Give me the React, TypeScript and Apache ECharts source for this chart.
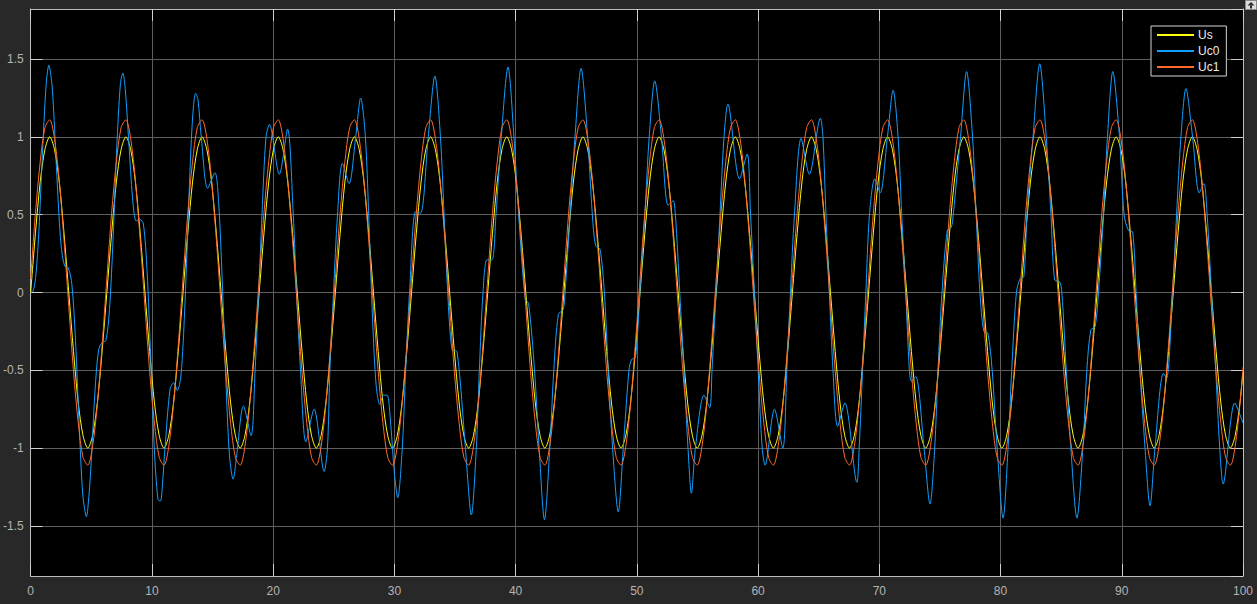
import React, { useEffect, useRef } from "react";
import * as echarts from "echarts";

// ---------- data ----------
const seriesNames = ["Us", "Uc0", "Uc1"];
const seriesColors = ["#FFFF11", "#139FFF", "#FF6929"];

// Us and Uc1 are sampled every pi/8 time units, starting at t = 0
const SAMPLE_STEP = Math.PI / 8;
const END_TIME = 100;

const usValues = [
  0, 0.38, 0.71, 0.92, 1, 0.92, 0.71, 0.38, 0, -0.38, -0.71, -0.92, -1, -0.92, -0.71, -0.38,
  0, 0.38, 0.71, 0.92, 1, 0.92, 0.71, 0.38, 0, -0.38, -0.71, -0.92, -1, -0.92, -0.71, -0.38,
  0, 0.38, 0.71, 0.92, 1, 0.92, 0.71, 0.38, 0, -0.38, -0.71, -0.92, -1, -0.92, -0.71, -0.38,
  0, 0.38, 0.71, 0.92, 1, 0.92, 0.71, 0.38, 0, -0.38, -0.71, -0.92, -1, -0.92, -0.71, -0.38,
  0, 0.38, 0.71, 0.92, 1, 0.92, 0.71, 0.38, 0, -0.38, -0.71, -0.92, -1, -0.92, -0.71, -0.38,
  0, 0.38, 0.71, 0.92, 1, 0.92, 0.71, 0.38, 0, -0.38, -0.71, -0.92, -1, -0.92, -0.71, -0.38,
  0, 0.38, 0.71, 0.92, 1, 0.92, 0.71, 0.38, 0, -0.38, -0.71, -0.92, -1, -0.92, -0.71, -0.38,
  0, 0.38, 0.71, 0.92, 1, 0.92, 0.71, 0.38, 0, -0.38, -0.71, -0.92, -1, -0.92, -0.71, -0.38,
  0, 0.38, 0.71, 0.92, 1, 0.92, 0.71, 0.38, 0, -0.38, -0.71, -0.92, -1, -0.92, -0.71, -0.38,
  0, 0.38, 0.71, 0.92, 1, 0.92, 0.71, 0.38, 0, -0.38, -0.71, -0.92, -1, -0.92, -0.71, -0.38,
  0, 0.38, 0.71, 0.92, 1, 0.92, 0.71, 0.38, 0, -0.38, -0.71, -0.92, -1, -0.92, -0.71, -0.38,
  0, 0.38, 0.71, 0.92, 1, 0.92, 0.71, 0.38, 0, -0.38, -0.71, -0.92, -1, -0.92, -0.71, -0.38,
  0, 0.38, 0.71, 0.92, 1, 0.92, 0.71, 0.38, 0, -0.38, -0.71, -0.92, -1, -0.92, -0.71, -0.38,
  0, 0.38, 0.71, 0.92, 1, 0.92, 0.71, 0.38, 0, -0.38, -0.71, -0.92, -1, -0.92, -0.71, -0.38,
  0, 0.38, 0.71, 0.92, 1, 0.92, 0.71, 0.38, 0, -0.38, -0.71, -0.92, -1, -0.92, -0.71, -0.38,
  0, 0.38, 0.71, 0.92, 1, 0.92, 0.71, 0.38, 0, -0.38, -0.71, -0.92, -1, -0.92, -0.71,
];
const usEnd = -0.51;

const uc1Values = [
  0.09, 0.51, 0.84, 1.06, 1.11, 0.99, 0.72, 0.34, -0.09, -0.51, -0.84, -1.06, -1.11, -0.99, -0.72, -0.34,
  0.09, 0.51, 0.84, 1.06, 1.11, 0.99, 0.72, 0.34, -0.09, -0.51, -0.84, -1.06, -1.11, -0.99, -0.72, -0.34,
  0.09, 0.51, 0.84, 1.06, 1.11, 0.99, 0.72, 0.34, -0.09, -0.51, -0.84, -1.06, -1.11, -0.99, -0.72, -0.34,
  0.09, 0.51, 0.84, 1.06, 1.11, 0.99, 0.72, 0.34, -0.09, -0.51, -0.84, -1.06, -1.11, -0.99, -0.72, -0.34,
  0.09, 0.51, 0.84, 1.06, 1.11, 0.99, 0.72, 0.34, -0.09, -0.51, -0.84, -1.06, -1.11, -0.99, -0.72, -0.34,
  0.09, 0.51, 0.84, 1.06, 1.11, 0.99, 0.72, 0.34, -0.09, -0.51, -0.84, -1.06, -1.11, -0.99, -0.72, -0.34,
  0.09, 0.51, 0.84, 1.06, 1.11, 0.99, 0.72, 0.34, -0.09, -0.51, -0.84, -1.06, -1.11, -0.99, -0.72, -0.34,
  0.09, 0.51, 0.84, 1.06, 1.11, 0.99, 0.72, 0.34, -0.09, -0.51, -0.84, -1.06, -1.11, -0.99, -0.72, -0.34,
  0.09, 0.51, 0.84, 1.06, 1.11, 0.99, 0.72, 0.34, -0.09, -0.51, -0.84, -1.06, -1.11, -0.99, -0.72, -0.34,
  0.09, 0.51, 0.84, 1.06, 1.11, 0.99, 0.72, 0.34, -0.09, -0.51, -0.84, -1.06, -1.11, -0.99, -0.72, -0.34,
  0.09, 0.51, 0.84, 1.06, 1.11, 0.99, 0.72, 0.34, -0.09, -0.51, -0.84, -1.06, -1.11, -0.99, -0.72, -0.34,
  0.09, 0.51, 0.84, 1.06, 1.11, 0.99, 0.72, 0.34, -0.09, -0.51, -0.84, -1.06, -1.11, -0.99, -0.72, -0.34,
  0.09, 0.51, 0.84, 1.06, 1.11, 0.99, 0.72, 0.34, -0.09, -0.51, -0.84, -1.06, -1.11, -0.99, -0.72, -0.34,
  0.09, 0.51, 0.84, 1.06, 1.11, 0.99, 0.72, 0.34, -0.09, -0.51, -0.84, -1.06, -1.11, -0.99, -0.72, -0.34,
  0.09, 0.51, 0.84, 1.06, 1.11, 0.99, 0.72, 0.34, -0.09, -0.51, -0.84, -1.06, -1.11, -0.99, -0.72, -0.34,
  0.09, 0.51, 0.84, 1.06, 1.11, 0.99, 0.72, 0.34, -0.09, -0.51, -0.84, -1.06, -1.11, -0.99, -0.72,
];
const uc1End = -0.48;

// Uc0: [time, value] read at its peaks, troughs, shoulders and grid crossings
const uc0Points = [
  [0, 0], [0.2, 0.01], [0.4, 0.09], [0.6, 0.29], [0.75, 0.51], [0.9, 0.77], [1.1, 1.1], [1.3, 1.36],
  [1.5, 1.46], [1.75, 1.34], [1.9, 1.16], [2.2, 0.69], [2.5, 0.31], [2.8, 0.17], [3.1, 0.16], [3.4, 0.05],
  [3.7, -0.31], [4.0, -0.85], [4.3, -1.3], [4.6, -1.44], [4.8, -1.31], [5.0, -1.08], [5.3, -0.64],
  [5.6, -0.37], [5.9, -0.32], [6.2, -0.31], [6.5, -0.11], [6.8, 0.35], [7.1, 0.93], [7.4, 1.34],
  [7.6, 1.41], [7.8, 1.31], [8.1, 0.96], [8.4, 0.61], [8.7, 0.46], [9.0, 0.47], [9.3, 0.44], [9.6, 0.14],
  [9.9, -0.42], [10.2, -1.01], [10.5, -1.33], [10.7, -1.34], [10.9, -1.2], [11.05, -1.03], [11.5, -0.62],
  [11.8, -0.58], [12.1, -0.63], [12.4, -0.53], [12.7, -0.12], [13.0, 0.49], [13.3, 1.05], [13.6, 1.28],
  [13.8, 1.24], [14.07, 1.0], [14.6, 0.67], [15.2, 0.77], [15.5, 0.58], [15.8, 0.08], [16.1, -0.56],
  [16.4, -1.05], [16.7, -1.2], [17.0, -1.04], [17.55, -0.73], [18.18, -0.92], [18.51, -0.5], [18.81, 0.0],
  [19.08, 0.5], [19.41, 1.0], [19.69, 1.08], [20.51, 0.76], [21.19, 1.05], [21.66, 0.5], [21.93, 0.0],
  [22.26, -0.5], [22.7, -0.96], [23.38, -0.75], [24.21, -1.15], [24.48, -1.0], [24.68, -0.5], [24.98, 0.0],
  [25.31, 0.5], [25.71, 0.83], [26.26, 0.7], [26.81, 1.0], [27.22, 1.25], [27.6, 1.01], [27.9, 0.46],
  [28.2, -0.17], [28.5, -0.6], [28.8, -0.72], [29.1, -0.66], [29.4, -0.66], [29.7, -0.85], [30.0, -1.16],
  [30.28, -1.32], [30.65, -1.0], [30.93, -0.5], [31.25, 0.0], [31.75, 0.52], [32.16, 0.51], [32.79, 1.0],
  [33.34, 1.39], [33.8, 1.0], [34.1, 0.5], [34.4, 0.0], [34.76, -0.37], [35.17, -0.38], [35.86, -1.0],
  [36.35, -1.43], [36.76, -1.0], [37.01, -0.5], [37.31, 0.0], [37.64, 0.21], [38.05, 0.21], [38.38, 0.5],
  [38.82, 1.0], [39.37, 1.45], [39.86, 1.0], [40.25, 0.5], [40.79, -0.04], [41.07, -0.07], [41.56, -0.5],
  [41.94, -1.0], [42.38, -1.46], [42.82, -1.0], [43.15, -0.5], [43.53, -0.14], [43.92, -0.11], [44.08, 0.0],
  [44.49, 0.5], [44.9, 1.0], [45.4, 1.44], [45.94, 1.0], [46.33, 0.5], [46.6, 0.3], [46.96, 0.28],
  [47.32, 0.0], [47.64, -0.5], [48.0, -1.0], [48.47, -1.41], [48.88, -1.0], [49.35, -0.5], [49.57, -0.43],
  [49.89, -0.42], [50.25, 0.0], [50.66, 0.5], [51.02, 1.0], [51.48, 1.36], [52.03, 1.0], [52.58, 0.56],
  [52.99, 0.59], [53.18, 0.5], [53.54, 0.0], [53.89, -0.5], [54.22, -1.0], [54.5, -1.29], [54.83, -1.0],
  [55.54, -0.66], [56.01, -0.74], [56.2, -0.5], [56.53, 0.0], [56.86, 0.5], [57.19, 1.0], [57.51, 1.21],
  [58.47, 0.73], [59.1, 0.89], [59.38, 0.5], [59.7, 0.0], [60.01, -0.5], [60.34, -1.0], [60.58, -1.11],
  [61.35, -0.75], [62.04, -1.0], [62.37, -0.5], [62.67, 0.0], [63.0, 0.5], [63.55, 0.99], [64.23, 0.76],
  [65.14, 1.12], [65.35, 1.0], [65.6, 0.5], [65.88, 0.0], [66.18, -0.5], [66.56, -0.86], [67.16, -0.71],
  [68.15, -1.22], [68.34, -1.0], [68.62, -0.5], [68.89, 0.0], [69.19, 0.5], [69.63, 0.73], [70.07, 0.64],
  [70.67, 1.0], [71.14, 1.3], [71.55, 1.0], [71.85, 0.5], [72.18, 0.0], [72.48, -0.5], [72.65, -0.57],
  [73.0, -0.54], [73.69, -1.0], [74.18, -1.36], [74.57, -1.0], [74.84, -0.5], [75.17, 0.0], [75.61, 0.4],
  [75.94, 0.42], [76.1, 0.5], [76.7, 1.0], [77.2, 1.42], [77.69, 1.0], [77.99, 0.5], [78.3, 0.0],
  [78.62, -0.25], [78.95, -0.26], [79.31, -0.5], [79.72, -1.0], [80.21, -1.45], [80.62, -1.0], [80.92, -0.5],
  [81.31, 0.0], [81.62, 0.09], [81.92, 0.1], [82.18, 0.5], [82.68, 1.0], [83.23, 1.47], [83.77, 1.0],
  [84.16, 0.5], [84.46, 0.08], [84.87, 0.07], [85.06, 0.0], [85.42, -0.5], [85.8, -1.0], [86.3, -1.45],
  [86.79, -1.0], [87.12, -0.5], [87.45, -0.24], [87.8, -0.22], [88.08, 0.0], [88.49, 0.5], [88.82, 1.0],
  [89.26, 1.42], [89.81, 1.0], [90.19, 0.5], [90.55, 0.4], [90.9, 0.39], [91.18, 0.0], [91.5, -0.5],
  [91.92, -1.0], [92.33, -1.37], [92.74, -1.0], [93.43, -0.52], [93.7, -0.55], [94.19, 0.0], [94.52, 0.5],
  [94.88, 1.0], [95.29, 1.31], [95.84, 1.0], [96.39, 0.64], [96.77, 0.7], [97.04, 0.5], [97.4, 0.0],
  [97.75, -0.5], [98.08, -1.0], [98.36, -1.23], [99.32, -0.71], [100, -0.84],
];

// axis ranges
const X_MIN = 0;
const X_MAX = 100;
const X_STEP = 10;
const Y_LIMIT = 1.822;
const Y_STEP = 0.5;

// ---------- styling ----------
const FONT = "'Liberation Sans', Arial, Helvetica, sans-serif";
const LABEL_COLOR = "#b4b4b4";
const BORDER_COLOR = "#bdbdbd";
const TICK_COLOR = "#d0d0d0";
const GRID_COLOR = "#5e5e5e";

export default function App() {
  const ref = useRef<HTMLDivElement>(null);

  useEffect(() => {
    if (!ref.current) return;
    const chart = echarts.init(ref.current, null, { renderer: "svg" });

    const usData: number[][] = usValues.map((v, i) => [i * SAMPLE_STEP, v]);
    usData.push([END_TIME, usEnd]);
    const uc1Data: number[][] = uc1Values.map((v, i) => [i * SAMPLE_STEP, v]);
    uc1Data.push([END_TIME, uc1End]);
    const dataSets = [usData, uc0Points, uc1Data];

    const axisLine = { show: true, onZero: false, lineStyle: { color: BORDER_COLOR, width: 1 } };
    const axisTick = { show: true, inside: true, length: 12, lineStyle: { color: TICK_COLOR, width: 1 } };

    chart.setOption({
      animation: false,
      backgroundColor: "#282828",
      textStyle: { fontFamily: FONT },
      grid: {
        left: 27,
        top: 9,
        width: 1216,
        height: 567,
        show: true,
        backgroundColor: "#000000",
        borderWidth: 0,
      },
      legend: {
        orient: "vertical",
        left: 1151,
        top: 26,
        padding: [3, 7, 3, 5],
        itemWidth: 37,
        itemHeight: 14,
        itemGap: 4,
        backgroundColor: "#000000",
        borderColor: "#d4d4d4",
        borderWidth: 1,
        borderRadius: 0,
        data: seriesNames,
        itemStyle: { opacity: 0 },
        textStyle: { color: "#ececec", fontSize: 12, fontFamily: FONT, padding: [0, 0, 0, -1] },
      },
      xAxis: [
        {
          type: "value",
          position: "bottom",
          min: X_MIN,
          max: X_MAX,
          interval: X_STEP,
          axisLine,
          axisTick,
          axisLabel: { color: LABEL_COLOR, fontSize: 12, margin: 9, fontFamily: FONT },
          splitLine: { show: true, lineStyle: { color: GRID_COLOR, width: 1 } },
        },
        {
          type: "value",
          position: "top",
          min: X_MIN,
          max: X_MAX,
          interval: X_STEP,
          axisLine,
          axisTick,
          axisLabel: { show: false },
          splitLine: { show: false },
        },
      ],
      yAxis: [
        {
          type: "value",
          position: "left",
          min: -Y_LIMIT,
          max: Y_LIMIT,
          splitNumber: 7,
          minInterval: Y_STEP,
          maxInterval: Y_STEP,
          axisLine,
          axisTick,
          axisLabel: {
            color: LABEL_COLOR,
            fontSize: 12,
            margin: 7,
            fontFamily: FONT,
            showMinLabel: false,
            showMaxLabel: false,
          },
          splitLine: { show: true, lineStyle: { color: GRID_COLOR, width: 1 } },
        },
        {
          type: "value",
          position: "right",
          min: -Y_LIMIT,
          max: Y_LIMIT,
          splitNumber: 7,
          minInterval: Y_STEP,
          maxInterval: Y_STEP,
          axisLine,
          axisTick,
          axisLabel: { show: false },
          splitLine: { show: false },
        },
      ],
      graphic: [
        {
          type: "rect",
          shape: { x: 1245.5, y: 0.5, width: 11, height: 9 },
          style: { fill: "#dcdcdc", stroke: "#8a8a8a", lineWidth: 1 },
          silent: true,
        },
        {
          type: "polygon",
          shape: { points: [[1251, 2], [1254.5, 5.5], [1247.5, 5.5]] },
          style: { fill: "#2a2a2a" },
          silent: true,
        },
        {
          type: "rect",
          shape: { x: 1250, y: 5.5, width: 2, height: 3 },
          style: { fill: "#2a2a2a" },
          silent: true,
        },
      ],
      series: seriesNames.map((name, k) => ({
        name,
        type: "line",
        xAxisIndex: 0,
        yAxisIndex: 0,
        data: dataSets[k],
        symbol: "none",
        showSymbol: false,
        smooth: 0.3,
        clip: true,
        lineStyle: { color: seriesColors[k], width: 1 },
        itemStyle: { color: seriesColors[k] },
        emphasis: { disabled: true },
      })),
    });

    return () => chart.dispose();
  }, []);

  return (
    <div
      ref={ref}
      style={{ position: "absolute", left: 0, top: 0, width: 1257, height: 604 }}
    />
  );
}
